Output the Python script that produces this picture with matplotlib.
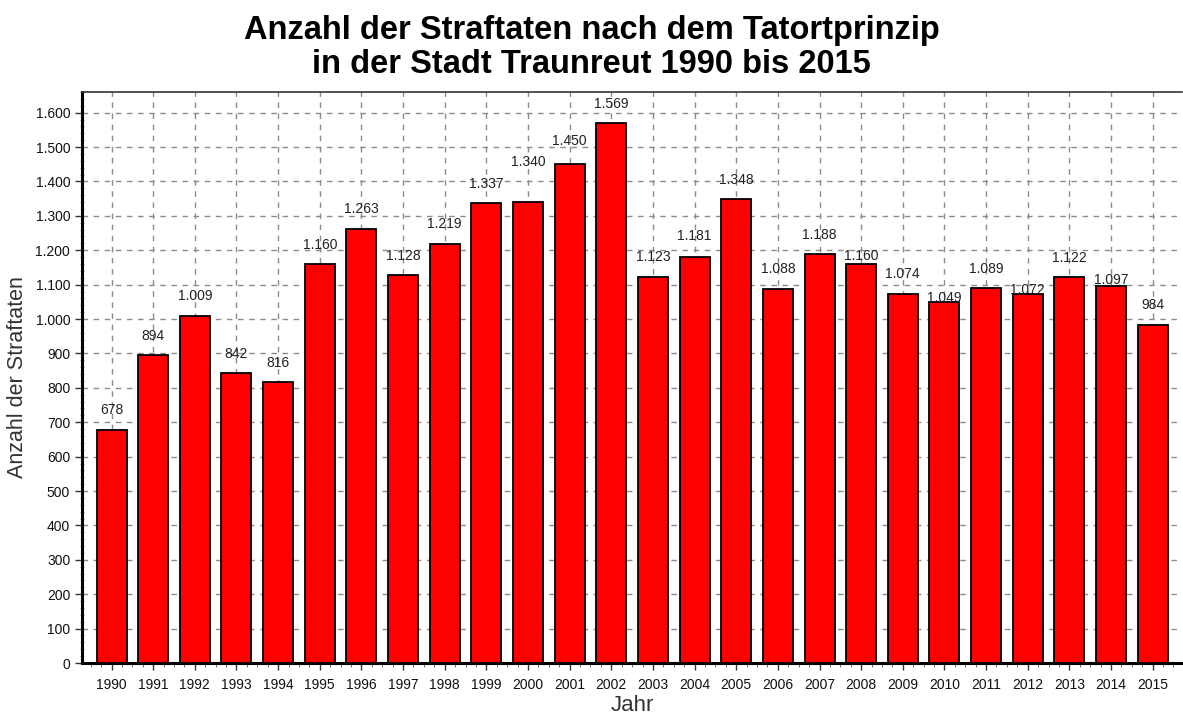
import matplotlib.pyplot as plt
from matplotlib.ticker import FuncFormatter, MultipleLocator, AutoMinorLocator

years = [1990, 1991, 1992, 1993, 1994, 1995, 1996, 1997, 1998, 1999, 2000, 2001, 2002,
         2003, 2004, 2005, 2006, 2007, 2008, 2009, 2010, 2011, 2012, 2013, 2014, 2015]
cases = [678, 894, 1009, 842, 816, 1160, 1263, 1128, 1219, 1337, 1340, 1450, 1569,
         1123, 1181, 1348, 1088, 1188, 1160, 1074, 1049, 1089, 1072, 1122, 1097, 984]

# vertical gap between bar top and its value label (points), shifted where labels would collide
label_gap = [14, 14, 14, 14, 14, 14, 14, 14, 14, 14, 29, 17, 14,
             14, 15, 14, 14, 14, 6, 14, 3, 14, 3, 14, 4, 14]


def de_thousands(v, pos=None):
    return f"{int(v):,}".replace(",", ".")


plt.rcParams['font.family'] = ['Liberation Sans', 'DejaVu Sans']

fig = plt.figure(figsize=(11.83, 7.16), dpi=100)
ax = fig.add_axes([0.0693, 0.074, 0.9297, 0.7975])

x = list(range(len(years)))
ax.bar(x, cases, width=0.72, color='#ff0000', edgecolor='black', linewidth=1.3, zorder=3)

for xi, v, gap in zip(x, cases, label_gap):
    ax.annotate(de_thousands(v), (xi, v), xytext=(0, gap), textcoords='offset points',
                ha='center', va='center', fontsize=10, color='#222222', zorder=4)

ax.set_xlim(-0.71, len(years) - 0.3)
ax.set_ylim(0, 1660)
ax.set_xticks(x)
ax.set_xticklabels([str(y) for y in years])
ax.yaxis.set_major_locator(MultipleLocator(100))
ax.yaxis.set_major_formatter(FuncFormatter(de_thousands))
ax.yaxis.set_minor_locator(AutoMinorLocator(5))
ax.xaxis.set_minor_locator(AutoMinorLocator(4))

ax.grid(True, which='major', linestyle=(0, (4, 4)), color='#8c8c8c', linewidth=1, zorder=0)
ax.set_axisbelow(True)

ax.tick_params(axis='both', which='major', labelsize=10, length=5, width=1, colors='#333333',
               labelcolor='#111111')
ax.tick_params(axis='y', which='minor', length=3, direction='inout', color='#777777')
ax.tick_params(axis='x', which='minor', length=3, color='#555555')
ax.tick_params(axis='x', which='major', pad=6)

ax.spines['left'].set_linewidth(2.2)
ax.spines['bottom'].set_linewidth(2.2)
ax.spines['top'].set_linewidth(1.2)
ax.spines['top'].set_color('#333333')
ax.spines['right'].set_visible(False)

ax.set_ylabel('Anzahl der Straftaten', fontsize=15.5, color='#333333')
ax.yaxis.set_label_coords(-0.049, 0.5)
ax.set_xlabel('Jahr', fontsize=16, color='#333333', labelpad=2)

fig.text(0.5, 0.934, 'Anzahl der Straftaten nach dem Tatortprinzip\nin der Stadt Traunreut 1990 bis 2015',
         ha='center', va='center', fontsize=23.5, fontweight='bold', linespacing=1.12)

fig.savefig('out.png', dpi=100)
